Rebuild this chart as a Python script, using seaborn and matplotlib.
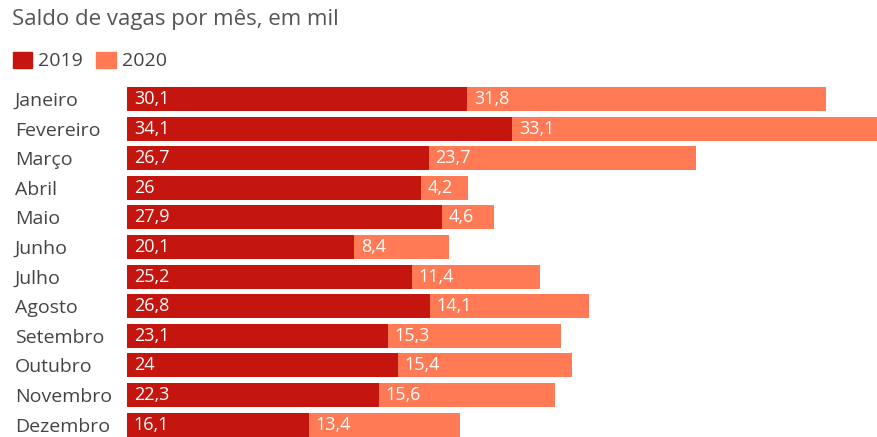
import matplotlib
matplotlib.use("Agg")
import matplotlib.pyplot as plt
import matplotlib.patches as mpatches
import seaborn as sns
import pandas as pd

months = ["Janeiro", "Fevereiro", "Março", "Abril", "Maio", "Junho",
          "Julho", "Agosto", "Setembro", "Outubro", "Novembro", "Dezembro"]
vals_2019 = [30.1, 34.1, 26.7, 26.0, 27.9, 20.1, 25.2, 26.8, 23.1, 24.0, 22.3, 16.1]
vals_2020 = [31.8, 33.1, 23.7, 4.2, 4.6, 8.4, 11.4, 14.1, 15.3, 15.4, 15.6, 13.4]

c19 = "#c4160f"
c20 = "#ff7a55"
txt = "#444444"

df = pd.DataFrame({"mes": months, "v2019": vals_2019, "v2020": vals_2020})
df["total"] = df["v2019"] + df["v2020"]


def fmt(v):
    s = "%.1f" % v
    if s.endswith(".0"):
        s = s[:-2]
    return s.replace(".", ",")


sns.set_theme(style="white")
plt.rcParams["font.family"] = ["Open Sans", "DejaVu Sans"]

fig = plt.figure(figsize=(8.77, 4.37), dpi=100)
ax = fig.add_axes([127 / 877, 0, 1 - 127 / 877, 357 / 437])

sns.barplot(data=df, y="mes", x="total", color=c20, saturation=1,
            width=0.81, orient="h", linewidth=0, ax=ax)
sns.barplot(data=df, y="mes", x="v2019", color=c19, saturation=1,
            width=0.81, orient="h", linewidth=0, ax=ax)

for i, row in df.iterrows():
    ax.text(0.6, i, fmt(row["v2019"]), color="white", va="center",
            ha="left", fontsize=13)
    ax.text(row["v2019"] + 0.6, i, fmt(row["v2020"]), color="white",
            va="center", ha="left", fontsize=13)

ax.set_xlim(0, 66.4)
ax.set_ylim(11.42, -0.642)
ax.set_xlabel("")
ax.set_ylabel("")
ax.set_xticks([])
for s in ax.spines.values():
    s.set_visible(False)
ax.tick_params(axis="y", length=0, pad=112 * 0.72, labelsize=14,
               labelcolor=txt)
for lab in ax.get_yticklabels():
    lab.set_ha("left")

fig.text(12 / 877, 1 - 20 / 437, "Saldo de vagas por mês, em mil",
         fontsize=16, color="#555555", va="center", ha="left")

handles = [mpatches.Patch(color=c19, label="2019"),
           mpatches.Patch(color=c20, label="2020")]
fig.legend(handles=handles, loc="center left", ncol=2, frameon=False,
           bbox_to_anchor=(5 / 877, 1 - 61 / 437), fontsize=14,
           handlelength=1.0, handleheight=0.9, handletextpad=0.3,
           columnspacing=0.7, labelcolor=txt, borderaxespad=0)

fig.savefig("out.png", dpi=100, facecolor="white")
